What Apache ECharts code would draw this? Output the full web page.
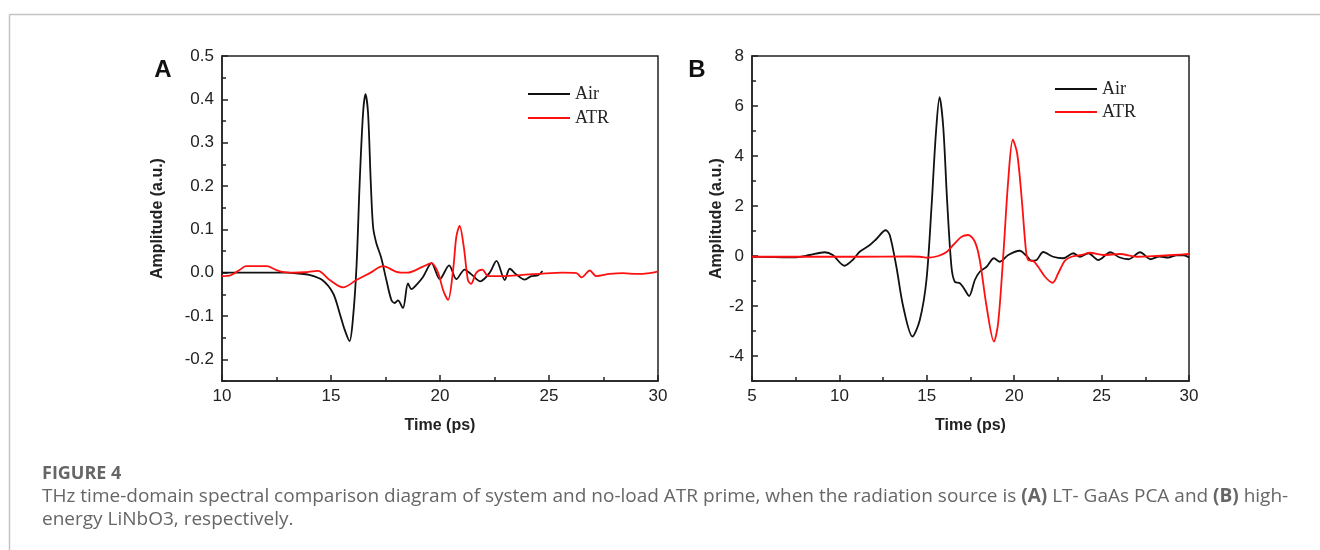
<!DOCTYPE html>
<html>
<head>
<meta charset="utf-8">
<title>THz time-domain comparison</title>
<script src="https://cdn.jsdelivr.net/npm/echarts@6/dist/echarts.min.js"></script>
<style>
  html, body { margin: 0; padding: 0; background: #fff; }
  #chart { width: 1320px; height: 550px; }
</style>
</head>
<body>
<div id="chart"></div>
<script>
// panel A: LT-GaAs PCA, [time (ps), amplitude (a.u.)]
var airA = [
  [10, 0], [11, 0], [12, 0], [13, 0], [13.5, -0.002], [14.0, -0.005], [14.6, -0.017],
  [15.1, -0.048], [15.4, -0.094], [15.63, -0.132], [15.85, -0.158], [16.0, -0.11],
  [16.17, 0.014], [16.32, 0.214], [16.47, 0.368], [16.58, 0.412], [16.7, 0.368],
  [16.82, 0.214], [16.93, 0.106], [17.08, 0.068], [17.3, 0.035], [17.54, -0.017],
  [17.77, -0.063], [17.92, -0.07], [18.07, -0.064], [18.3, -0.082], [18.53, -0.025],
  [18.69, -0.038], [18.92, -0.028], [19.22, -0.01], [19.61, 0.022], [19.99, -0.015],
  [20.42, 0.017], [20.75, -0.015], [21.13, 0.007], [21.44, -0.004], [21.85, -0.02],
  [22.28, 0], [22.59, 0.027], [22.97, -0.017], [23.2, 0.009], [23.5, -0.004],
  [23.89, -0.016], [24.19, -0.008], [24.5, -0.006], [24.7, 0.004]
];
var atrA = [
  [10, -0.008], [10.4, -0.006], [10.8, 0.006], [11.1, 0.015], [11.6, 0.015], [12.05, 0.015],
  [12.5, 0.006], [12.85, 0.001], [13.3, 0], [13.8, 0.001], [14.4, 0.004], [14.94, -0.017],
  [15.55, -0.034], [16.17, -0.017], [16.78, -0.001], [17.39, 0.015], [18.0, 0.002],
  [18.5, 0], [19.22, 0.014], [19.61, 0.022], [19.91, 0], [20.14, -0.04], [20.37, -0.063],
  [20.6, 0.006], [20.75, 0.083], [20.9, 0.108], [21.09, 0.06], [21.28, -0.017],
  [21.42, -0.026], [21.67, 0], [21.94, 0.007], [22.22, -0.008], [22.9, -0.008],
  [23.8, -0.005], [24.7, -0.002], [25.6, 0], [26.26, -0.001], [26.49, -0.011],
  [26.87, 0.005], [27.17, -0.008], [27.78, -0.003], [28.39, -0.001], [29.0, -0.003],
  [29.62, -0.001], [30, 0.003]
];
// panel B: high-energy LiNbO3
var airB = [
  [5, -0.03], [6, -0.04], [6.77, -0.05], [7.54, -0.05], [8.3, 0.04], [9.16, 0.15],
  [9.62, 0.04], [10.29, -0.39], [10.76, -0.16], [11.16, 0.17], [11.74, 0.44], [12.1, 0.67],
  [12.65, 1.03], [12.88, 0.84], [13.26, -0.43], [13.65, -2.02], [14.18, -3.22],
  [14.6, -2.56], [14.98, -0.96], [15.27, 1.97], [15.52, 4.9], [15.73, 6.35], [15.94, 5.17],
  [16.16, 2.24], [16.41, -0.43], [16.6, -1.03], [16.89, -1.09], [17.12, -1.29],
  [17.42, -1.6], [17.75, -0.96], [18.03, -0.63], [18.42, -0.43], [18.84, -0.09],
  [19.18, -0.23], [19.66, 0.04], [20.32, 0.21], [20.71, 0], [20.99, -0.19], [21.28, -0.16],
  [21.66, 0.16], [22.23, -0.03], [22.81, -0.09], [23.38, 0.11], [23.76, -0.03],
  [24.24, 0.11], [24.81, -0.16], [25.0, -0.1], [25.5, 0.15], [26.0, -0.05], [26.55, -0.13],
  [27.2, 0.15], [27.8, -0.13], [28.3, -0.02], [28.8, -0.06], [29.3, 0.03], [29.7, 0.03],
  [30, -0.06]
];
var atrB = [
  [5, -0.03], [8, -0.03], [11, -0.03], [14, -0.02], [14.6, -0.03], [15.04, -0.07],
  [15.65, 0], [16.13, 0.16], [16.51, 0.44], [16.99, 0.77], [17.37, 0.84], [17.75, 0.57],
  [18.03, -0.16], [18.42, -2.02], [18.84, -3.42], [19.08, -2.69], [19.37, -0.03],
  [19.66, 3.04], [19.92, 4.65], [20.17, 4.1], [20.42, 2.37], [20.67, 0.24], [20.8, -0.16],
  [21.09, -0.2], [21.37, -0.43], [21.76, -0.83], [22.2, -1.07], [22.52, -0.69],
  [22.9, -0.19], [23.28, -0.03], [23.86, 0.04], [24.33, 0.13], [25.1, 0.04], [26.05, 0.08],
  [27.0, -0.03], [28.15, 0], [29.1, 0.04], [30, 0.08]
];
// major tick labels
var yTicksA = [-0.2, -0.1, 0, 0.1, 0.2, 0.3, 0.4, 0.5];
var yTicksB = [-4, -2, 0, 2, 4, 6, 8];
var seriesNames = ['Air', 'ATR'];

var ink = '#222';
var axisFont = 'Liberation Sans, Arial, sans-serif';
var capFont = 'Open Sans, sans-serif';

function xAxisOf(grid, min) {
  return {
    type: 'value', gridIndex: grid, min: min, max: 30, interval: 5,
    axisLine: { onZero: false, lineStyle: { color: ink, width: 1.5 } },
    axisTick: { inside: true, length: 6, lineStyle: { color: ink, width: 1.5 } },
    minorTick: { show: true, splitNumber: 2, length: 4, lineStyle: { color: ink, width: 1.5 } },
    splitLine: { show: false },
    axisLabel: { fontSize: 17, color: ink, fontFamily: axisFont, margin: 7 },
    name: 'Time (ps)', nameLocation: 'middle', nameGap: 37,
    nameTextStyle: { fontSize: 16, fontWeight: 'bold', color: ink, fontFamily: axisFont }
  };
}

var chart = echarts.init(document.getElementById('chart'));
chart.setOption({
  animation: false,
  grid: [
    { left: 222, top: 56, width: 436, height: 325, show: true, borderColor: ink, borderWidth: 1.5 },
    { left: 752, top: 56, width: 437, height: 325, show: true, borderColor: ink, borderWidth: 1.5 }
  ],
  xAxis: [xAxisOf(0, 10), xAxisOf(1, 5)],
  yAxis: [
    {
      type: 'value', gridIndex: 0, position: 'left', min: -0.25, max: 0.5, interval: 0.05,
      axisLine: { show: true, onZero: false, lineStyle: { color: ink, width: 1.5 } },
      axisTick: { inside: true, length: 4, lineStyle: { color: ink, width: 1.5 } },
      splitLine: { show: false },
      axisLabel: {
        fontSize: 17, color: ink, fontFamily: axisFont, margin: 8,
        formatter: function (v) { return Math.round(v * 100) % 10 === 0 ? v.toFixed(1) : ''; }
      },
      name: 'Amplitude (a.u.)', nameLocation: 'middle', nameGap: 56,
      nameTextStyle: { fontSize: 16, fontWeight: 'bold', color: ink, fontFamily: axisFont }
    },
    {
      type: 'value', gridIndex: 0, position: 'left', min: -0.25, max: 0.5,
      axisLine: { show: false, onZero: false },
      axisTick: { show: true, inside: true, length: 6, customValues: yTicksA, lineStyle: { color: ink, width: 1.5 } },
      axisLabel: { show: false },
      splitLine: { show: false }
    },
    {
      type: 'value', gridIndex: 1, position: 'left', min: -5, max: 8, interval: 1,
      axisLine: { show: true, onZero: false, lineStyle: { color: ink, width: 1.5 } },
      axisTick: { inside: true, length: 4, lineStyle: { color: ink, width: 1.5 } },
      splitLine: { show: false },
      axisLabel: {
        fontSize: 17, color: ink, fontFamily: axisFont, margin: 8,
        formatter: function (v) { return yTicksB.indexOf(v) >= 0 ? String(v) : ''; }
      },
      name: 'Amplitude (a.u.)', nameLocation: 'middle', nameGap: 26,
      nameTextStyle: { fontSize: 16, fontWeight: 'bold', color: ink, fontFamily: axisFont }
    },
    {
      type: 'value', gridIndex: 1, position: 'left', min: -5, max: 8,
      axisLine: { show: false, onZero: false },
      axisTick: { show: true, inside: true, length: 6, customValues: yTicksB, lineStyle: { color: ink, width: 1.5 } },
      axisLabel: { show: false },
      splitLine: { show: false }
    }
  ],
  legend: [
    {
      orient: 'vertical', left: 528, top: 85, padding: 0, itemGap: 6,
      icon: 'rect', itemWidth: 42, itemHeight: 2, selectedMode: false,
      textStyle: { fontFamily: 'Liberation Serif, Times New Roman, serif', fontSize: 18, color: ink },
      data: seriesNames
    },
    {
      orient: 'vertical', left: 1055, top: 80, padding: 0, itemGap: 5,
      icon: 'rect', itemWidth: 42, itemHeight: 2, selectedMode: false,
      textStyle: { fontFamily: 'Liberation Serif, Times New Roman, serif', fontSize: 18, color: ink },
      data: seriesNames
    }
  ],
  series: [
    { name: 'Air', type: 'line', xAxisIndex: 0, yAxisIndex: 0, data: airA, smooth: 0.3, showSymbol: false, symbol: 'none', color: '#111', lineStyle: { width: 1.8 } },
    { name: 'ATR', type: 'line', xAxisIndex: 0, yAxisIndex: 0, data: atrA, smooth: 0.3, showSymbol: false, symbol: 'none', color: '#ff1010', lineStyle: { width: 1.8 } },
    { name: 'Air', type: 'line', xAxisIndex: 1, yAxisIndex: 2, data: airB, smooth: 0.3, showSymbol: false, symbol: 'none', color: '#111', lineStyle: { width: 1.8 } },
    { name: 'ATR', type: 'line', xAxisIndex: 1, yAxisIndex: 2, data: atrB, smooth: 0.3, showSymbol: false, symbol: 'none', color: '#ff1010', lineStyle: { width: 1.8 } }
  ],
  graphic: [
    { type: 'line', shape: { x1: 9.5, y1: 14.5, x2: 1320, y2: 14.5 }, style: { stroke: '#c4c4c4', lineWidth: 1.5 } },
    { type: 'line', shape: { x1: 9.5, y1: 14.5, x2: 9.5, y2: 550 }, style: { stroke: '#c4c4c4', lineWidth: 1.5 } },
    { type: 'text', x: 163, y: 70, style: { text: 'A', fontSize: 24, fontWeight: 'bold', fontFamily: axisFont, fill: '#111', align: 'center', verticalAlign: 'middle' } },
    { type: 'text', x: 697, y: 70, style: { text: 'B', fontSize: 24, fontWeight: 'bold', fontFamily: axisFont, fill: '#111', align: 'center', verticalAlign: 'middle' } },
    { type: 'text', x: 42, y: 474, style: { text: 'FIGURE 4', fontSize: 18, fontWeight: 'bold', fontFamily: capFont, fill: '#666', verticalAlign: 'middle' } },
    {
      type: 'text', x: 42, y: 497,
      style: {
        text: 'THz time-domain spectral comparison diagram of system and no-load ATR prime, when the radiation source is {b|(A)} LT- GaAs PCA and {b|(B)} high-',
        fontSize: 19, fontFamily: capFont, fill: '#666', verticalAlign: 'middle',
        rich: { b: { fontSize: 19, fontWeight: 'bold', fontFamily: capFont, fill: '#666' } }
      }
    },
    { type: 'text', x: 42, y: 520, style: { text: 'energy LiNbO3, respectively.', fontSize: 19, fontFamily: capFont, fill: '#666', verticalAlign: 'middle' } }
  ]
});
</script>
</body>
</html>
